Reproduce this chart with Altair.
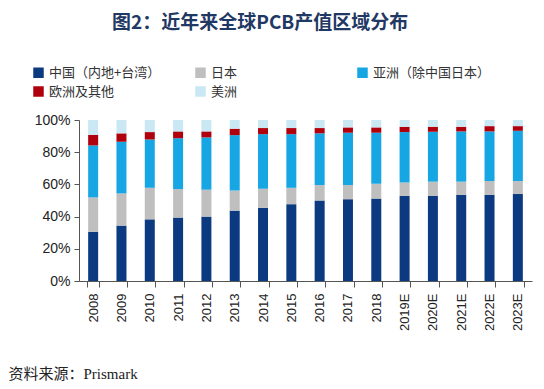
import altair as alt
import pandas as pd

years = ["2008", "2009", "2010", "2011", "2012", "2013", "2014", "2015", "2016",
         "2017", "2018", "2019E", "2020E", "2021E", "2022E", "2023E"]
series = ["中国（内地+台湾）", "日本", "亚洲（除中国日本）", "欧洲及其他", "美洲"]
colors = ["#0B3A80", "#BFBFBF", "#16A6E3", "#B0000E", "#C9E8F4"]

china = [30.6, 34.4, 38.3, 39.4, 40.0, 43.7, 45.4, 47.7, 50.0, 50.8, 51.2, 52.9, 52.9, 53.5, 53.5, 54.0]
japan = [21.3, 20.0, 19.6, 17.7, 16.7, 12.5, 11.9, 10.2, 9.6, 8.8, 9.2, 8.3, 8.8, 8.2, 8.6, 8.1]
asia = [32.3, 32.1, 30.0, 31.6, 32.5, 34.4, 33.9, 33.3, 32.1, 32.5, 31.7, 31.3, 31.0, 31.2, 30.8, 31.2]
europe = [6.6, 5.2, 4.6, 4.2, 3.7, 4.0, 3.8, 3.8, 3.3, 3.3, 3.3, 3.3, 3.1, 2.9, 3.3, 2.9]
americas = [9.2, 8.3, 7.5, 7.1, 7.1, 5.4, 5.0, 5.0, 5.0, 4.6, 4.6, 4.2, 4.2, 4.2, 3.8, 3.8]

rows = []
for k, (name, vals) in enumerate(zip(series, [china, japan, asia, europe, americas])):
    for y, v in zip(years, vals):
        rows.append({"year": y, "region": name, "value": v / 100.0, "k": k})
df = pd.DataFrame(rows)

chart = alt.Chart(df).mark_bar(size=10).encode(
    x=alt.X("year:N", sort=years,
            scale=alt.Scale(paddingInner=0.6, paddingOuter=0.3),
            axis=alt.Axis(title="资料来源：Prismark", titleX=-71, titleY=97,
                          titleAnchor="start", titleAlign="left", titleBaseline="alphabetic",
                          titleFont="Liberation Serif, Noto Sans CJK SC", titleFontSize=15,
                          titleFontWeight="normal", titleColor="#222",
                          labelAngle=-90, labelFontSize=13, labelFont="Liberation Sans",
                          labelColor="#222", labelPadding=6,
                          tickBand="extent", tickSize=6, tickColor="#555",
                          domainColor="#555", grid=False)),
    y=alt.Y("value:Q", stack="zero",
            scale=alt.Scale(domain=[0, 1]),
            axis=alt.Axis(title=None, format=".0%", values=[0, 0.2, 0.4, 0.6, 0.8, 1.0],
                          labelFontSize=14, labelFont="Liberation Sans", labelColor="#222",
                          tickSize=5, tickColor="#555", domainColor="#555",
                          labelPadding=4, grid=False)),
    color=alt.Color("region:N", sort=series,
                    scale=alt.Scale(domain=series, range=colors),
                    legend=alt.Legend(title=None, orient="none", legendX=-47, legendY=-54,
                                      direction="horizontal", columns=3, gridAlign="all",
                                      columnPadding=27, rowPadding=5,
                                      symbolType="square", symbolSize=110,
                                      symbolStrokeWidth=0, symbolOpacity=1,
                                      labelFont="Noto Sans CJK SC", labelFontSize=13,
                                      labelColor="#333", labelLimit=300)),
    order=alt.Order("k:Q", sort="ascending"),
).properties(
    width=453,
    height=161,
    autosize=alt.AutoSizeParams(type="none"),
    padding={"left": 71, "top": 112, "right": 4, "bottom": 100},
    title=alt.TitleParams("图2：近年来全球PCB产值区域分布", anchor="start", frame="group",
                          dx=33, offset=33, fontSize=19, font="Noto Sans CJK SC",
                          fontWeight="bold", color="#1F3864"),
).configure_view(stroke=None)

chart.save("out.html", embed_options={"renderer": "svg", "actions": False})
